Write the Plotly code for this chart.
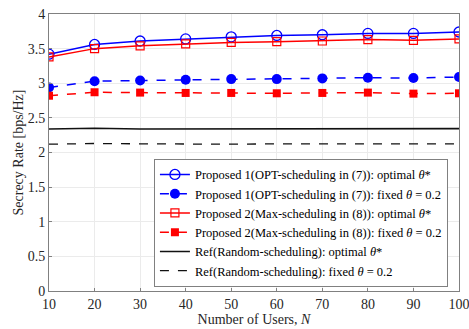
import plotly.graph_objects as go

users = [10, 20, 30, 40, 50, 60, 70, 80, 90, 100]
p1_opt = [3.42, 3.56, 3.61, 3.64, 3.67, 3.69, 3.70, 3.72, 3.72, 3.74]
p1_fix = [2.94, 3.03, 3.04, 3.05, 3.06, 3.06, 3.07, 3.08, 3.075, 3.09]
p2_opt = [3.38, 3.50, 3.54, 3.57, 3.59, 3.60, 3.61, 3.63, 3.62, 3.64]
p2_fix = [2.82, 2.87, 2.865, 2.86, 2.86, 2.855, 2.86, 2.865, 2.85, 2.855]
ref_opt = [2.34, 2.35, 2.34, 2.34, 2.345, 2.345, 2.345, 2.345, 2.345, 2.345]
ref_fix = [2.12, 2.13, 2.125, 2.12, 2.12, 2.125, 2.125, 2.125, 2.125, 2.125]

names = [
    "Proposed 1(OPT-scheduling in (7)): optimal <i>θ</i>*",
    "Proposed 1(OPT-scheduling in (7)): fixed <i>θ</i> = 0.2",
    "Proposed 2(Max-scheduling in (8)): optimal <i>θ</i>*",
    "Proposed 2(Max-scheduling in (8)): fixed <i>θ</i> = 0.2",
    "Ref(Random-scheduling): optimal <i>θ</i>*",
    "Ref(Random-scheduling): fixed <i>θ</i> = 0.2",
]

font = "Liberation Serif"
fig = go.Figure()
fig.add_trace(go.Scatter(x=users, y=p1_opt, name=names[0], mode="lines+markers",
                         line=dict(color="#0000ff", width=1.5),
                         marker=dict(symbol="circle-open", size=10, color="#0000ff", line=dict(width=1.3))))
fig.add_trace(go.Scatter(x=users, y=p1_fix, name=names[1], mode="lines+markers",
                         line=dict(color="#0000ff", width=1.5, dash="dash"),
                         marker=dict(symbol="circle", size=10, color="#0000ff")))
fig.add_trace(go.Scatter(x=users, y=p2_opt, name=names[2], mode="lines+markers",
                         line=dict(color="#ff0000", width=1.5),
                         marker=dict(symbol="square-open", size=8, color="#ff0000", line=dict(width=1.2))))
fig.add_trace(go.Scatter(x=users, y=p2_fix, name=names[3], mode="lines+markers",
                         line=dict(color="#ff0000", width=1.5, dash="dash"),
                         marker=dict(symbol="square", size=8, color="#ff0000")))
fig.add_trace(go.Scatter(x=users, y=ref_opt, name=names[4], mode="lines",
                         line=dict(color="#111111", width=1.6)))
fig.add_trace(go.Scatter(x=users, y=ref_fix, name=names[5], mode="lines",
                         line=dict(color="#111111", width=1.3, dash="dash")))

fig.update_layout(
    width=469, height=329,
    margin=dict(l=49, r=10, t=14, b=38),
    paper_bgcolor="white", plot_bgcolor="white",
    font=dict(family=font, size=14, color="#262626"),
    showlegend=True,
    legend=dict(x=0.973, y=0.015, xanchor="right", yanchor="bottom",
                bgcolor="white", bordercolor="#808080", borderwidth=1,
                font=dict(family=font, size=12.5, color="#000000"),
                itemwidth=30, tracegroupgap=0),
    xaxis=dict(range=[10, 100], tickvals=[10, 20, 30, 40, 50, 60, 70, 80, 90, 100],
               showgrid=True, gridcolor="#ebebeb", gridwidth=1,
               showline=True, linecolor="#808080", linewidth=1, mirror=True,
               ticks="inside", ticklen=3, tickcolor="#808080",
               zeroline=False, automargin=False, ticklabeloverflow="allow",
               title=dict(text="Number of Users, <i>N</i>", standoff=0,
                          font=dict(family=font, size=14))),
    yaxis=dict(range=[0, 4], tickvals=[0, 0.5, 1, 1.5, 2, 2.5, 3, 3.5, 4],
               ticktext=["0", "0.5", "1", "1.5", "2", "2.5", "3", "3.5", "4"],
               showgrid=True, gridcolor="#ebebeb", gridwidth=1,
               showline=True, linecolor="#808080", linewidth=1, mirror=True,
               ticks="inside", ticklen=3, tickcolor="#808080",
               zeroline=False, automargin=False, ticklabeloverflow="allow",
               title=dict(text="Secrecy Rate [bps/Hz]", standoff=0,
                          font=dict(family=font, size=14))),
)

fig.write_html("out.html", config={"displayModeBar": False},
               post_script="document.body.style.margin='0';document.body.style.padding='0';")
